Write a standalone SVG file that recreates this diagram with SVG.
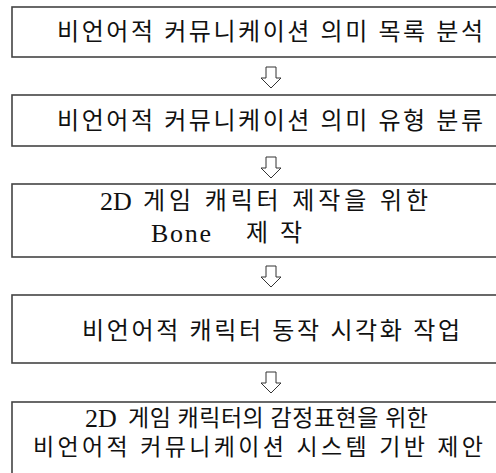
<svg xmlns="http://www.w3.org/2000/svg" width="496" height="473" viewBox="0 0 496 473">
<style>
.box{fill:#fff;stroke:#444;stroke-width:1.6}
.t{font-family:"Liberation Serif","Noto Sans CJK KR",serif;font-size:24px;fill:#111;dominant-baseline:central}
.s{font-size:23px}
.lat{font-size:26px}
.arr{fill:#fff;stroke:#333;stroke-width:1;stroke-linejoin:miter}
</style>
<defs>
<path id="darrow" d="M-5,0 H5 V11 H10 L0,21 L-10,11 H-5 Z"/>
</defs>
<rect width="496" height="473" fill="#fff"/>
<g id="connectors">
<use href="#darrow" class="arr" x="271" y="67"/>
<use href="#darrow" class="arr" x="271" y="157"/>
<use href="#darrow" class="arr" x="271" y="266"/>
<use href="#darrow" class="arr" x="271" y="372"/>
</g>
<g id="node1">
<rect class="box" x="12" y="7" width="540" height="50"/>
<text class="t" x="57" y="32" textLength="426" lengthAdjust="spacing">비언어적 커뮤니케이션 의미 목록 분석</text>
</g>
<g id="node2">
<rect class="box" x="12" y="95" width="540" height="51"/>
<text class="t" x="57" y="121" textLength="426" lengthAdjust="spacing">비언어적 커뮤니케이션 의미 유형 분류</text>
</g>
<g id="node3">
<rect class="box" x="12" y="184" width="540" height="73"/>
<text class="t" y="201"><tspan class="lat" x="100">2D</tspan><tspan x="143" textLength="285" lengthAdjust="spacing">게임 캐릭터 제작을 위한</tspan></text>
<text class="t" y="233"><tspan class="lat" x="151" textLength="60" lengthAdjust="spacing">Bone</tspan><tspan x="246" textLength="56" lengthAdjust="spacing">제작</tspan></text>
</g>
<g id="node4">
<rect class="box" x="12" y="295" width="540" height="68"/>
<text class="t" x="82" y="331" textLength="378" lengthAdjust="spacing">비언어적 캐릭터 동작 시각화 작업</text>
</g>
<g id="node5">
<rect class="box" x="12" y="402" width="540" height="100"/>
<text class="t" y="418"><tspan class="lat" x="85">2D</tspan><tspan class="s" x="128" textLength="300" lengthAdjust="spacing">게임 캐릭터의 감정표현을 위한</tspan></text>
<text class="t s" x="33" y="447" textLength="450" lengthAdjust="spacing">비언어적 커뮤니케이션 시스템 기반 제안</text>
</g>
</svg>
